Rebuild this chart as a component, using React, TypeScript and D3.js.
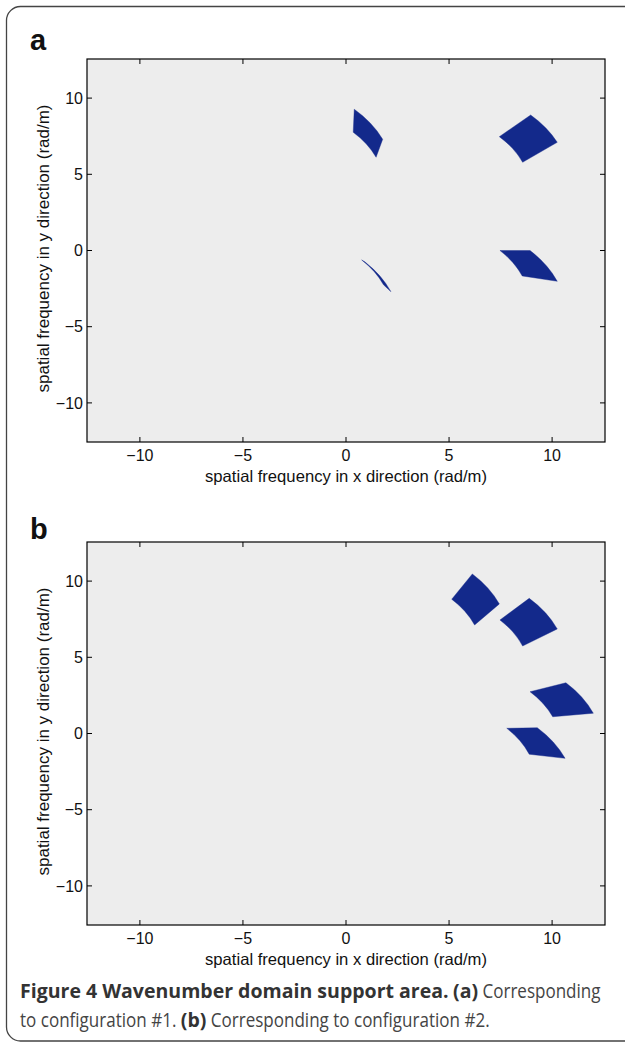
import React from 'react';
import * as d3 from 'd3';

const W = 625;
const H = 1043;
const LIM = 4 * Math.PI;
const K_MAX = 2 * Math.PI;
const K_MIN = (2 * Math.PI) / 1.2;

const tickValues = [-10, -5, 0, 5, 10];
const tickLabels = ['\u221210', '\u22125', '0', '5', '10'];
const xTitle = 'spatial frequency in x direction (rad/m)';
const yTitle = 'spatial frequency in y direction (rad/m)';

type Pt = [number, number];
// each support patch: outer-arc start, outer-arc end, inner-arc end, inner-arc start (rad/m)
const patchesA: Pt[][] = [
  [[0.40, 9.27], [1.78, 7.30], [1.46, 6.12], [0.35, 7.76]],
  [[8.96, 8.89], [10.25, 7.10], [8.57, 5.79], [7.44, 7.47]],
  [[0.91, -0.74], [2.18, -2.70], [1.82, -2.25], [0.76, -0.62]],
  [[8.93, 0.0], [10.25, -2.02], [8.55, -1.67], [7.47, 0.0]],
];
const patchesB: Pt[][] = [
  [[6.13, 10.47], [7.44, 8.50], [6.24, 7.12], [5.13, 8.81]],
  [[8.89, 8.87], [10.25, 6.86], [8.57, 5.74], [7.47, 7.45]],
  [[10.67, 3.33], [12.0, 1.33], [10.03, 1.10], [8.93, 2.74]],
  [[9.28, 0.38], [10.63, -1.63], [8.89, -1.36], [7.80, 0.34]],
];

// caption lines, as [text, bold] segments separated by a space
const captionLine1: [string, boolean][] = [
  ['Figure 4 Wavenumber domain support area.', true],
  ['(a)', true],
  ['Corresponding', false],
];
const captionLine2: [string, boolean][] = [
  ['to configuration #1.', false],
  ['(b)', true],
  ['Corresponding to configuration #2.', false],
];
const LINE1_W = 581;
const LINE2_W = 470;

const FONT = '"Liberation Sans", Arial, Helvetica, sans-serif';
const CAP = '"Open Sans", "Noto Sans", sans-serif';
const FILL = '#13298b';
const BG = '#ededed';

let ctx: CanvasRenderingContext2D | null = null;
function measure(t: string, bold: boolean, size: number) {
  if (!ctx) ctx = document.createElement('canvas').getContext('2d');
  if (!ctx) return t.length * size * 0.5;
  ctx.font = `${bold ? 'bold ' : ''}${size}px ${CAP}`;
  return ctx.measureText(t).width;
}

type PanelProps = { top: number; bottom: number; patches: Pt[][]; letter: string; letterY: number };

function Panel({ top, bottom, patches, letter, letterY }: PanelProps) {
  const left = 87;
  const right = 605;
  const x = d3.scaleLinear().domain([-LIM, LIM]).range([left, right]);
  const y = d3.scaleLinear().domain([-LIM, LIM]).range([bottom, top]);
  const sx = Math.abs(x(1) - x(0));
  const sy = Math.abs(y(1) - y(0));
  const O: Pt = [x(0), y(0)];

  const arc = (from: Pt, to: Pt, r: number) => {
    const cr = (to[0] - from[0]) * (O[1] - from[1]) - (to[1] - from[1]) * (O[0] - from[0]);
    const sweep = cr > 0 ? 1 : 0;
    return `A${r * sx},${r * sy} 0 0 ${sweep} ${to[0]},${to[1]}`;
  };

  const pathOf = (p: Pt[]) => {
    const [o1, o2, i2, i1] = p.map(([a, b]) => [x(a), y(b)] as Pt);
    return `M${o1[0]},${o1[1]} ${arc(o1, o2, K_MAX)} L${i2[0]},${i2[1]} ${arc(i2, i1, K_MIN)} Z`;
  };

  const tl = 5;
  return (
    <g>
      <text x={30} y={letterY} fontFamily={FONT} fontWeight="bold" fontSize={29} fill="#111">{letter}</text>
      <rect x={left} y={top} width={right - left} height={bottom - top} fill={BG} />
      {patches.map((p, i) => (
        <path key={i} d={pathOf(p)} fill={FILL} stroke={FILL} strokeWidth={0.4} />
      ))}
      {tickValues.map((v, i) => (
        <g key={'x' + i}>
          <line x1={x(v)} x2={x(v)} y1={bottom} y2={bottom - tl} stroke="#000" />
          <line x1={x(v)} x2={x(v)} y1={top} y2={top + tl} stroke="#000" />
          <text x={x(v)} y={bottom + 18.5} textAnchor="middle" fontFamily={FONT} fontSize={16} fill="#111">{tickLabels[i]}</text>
        </g>
      ))}
      {tickValues.map((v, i) => (
        <g key={'y' + i}>
          <line x1={left} x2={left + tl} y1={y(v)} y2={y(v)} stroke="#000" />
          <line x1={right} x2={right - tl} y1={y(v)} y2={y(v)} stroke="#000" />
          <text x={83} y={y(v)} dy="0.36em" textAnchor="end" fontFamily={FONT} fontSize={16} fill="#111">{tickLabels[i]}</text>
        </g>
      ))}
      <rect x={left} y={top} width={right - left} height={bottom - top} fill="none" stroke="#000" strokeWidth={1.2} />
      <text x={(left + right) / 2} y={bottom + 40} textAnchor="middle" fontFamily={FONT} fontSize={16.5} fill="#111" textLength={282} lengthAdjust="spacingAndGlyphs">{xTitle}</text>
      <text transform={`translate(48.5,${(top + bottom) / 2 - 2}) rotate(-90)`} textAnchor="middle" fontFamily={FONT} fontSize={16.5} fill="#111" textLength={288} lengthAdjust="spacingAndGlyphs">{yTitle}</text>
    </g>
  );
}

// bold and regular widths of a caption line at a given size (spaces counted as regular)
function widths(segs: [string, boolean][], size: number) {
  let B = 0;
  let R = 0;
  segs.forEach(([t, b], i) => {
    const w = measure(t, b, size);
    if (b) B += w; else R += w;
    if (i < segs.length - 1) R += measure(' ', false, size);
  });
  return { B, R };
}

// regular segments are narrowed horizontally by s so each line keeps the reference width
function layoutLine(segs: [string, boolean][], size: number, s: number, x0: number) {
  let cx = x0;
  return segs.map(([t, b], i) => {
    const x = cx;
    const nat = measure(t, b, size);
    const w = b ? nat : nat * s;
    const gap = i < segs.length - 1 ? measure(' ', false, size) * s : 0;
    cx += w + gap;
    return { t, b, x };
  });
}

export default function App() {
  const base = 20;
  const l1 = widths(captionLine1, base);
  const l2 = widths(captionLine2, base);
  let s = (LINE1_W * l2.B - LINE2_W * l1.B) / (LINE2_W * l1.R - LINE1_W * l2.R);
  if (!isFinite(s) || s < 0.75 || s > 1.1) s = 0.9;
  const size = (base * LINE1_W) / (l1.B + s * l1.R);
  const lines = [layoutLine(captionLine1, size, s, 20), layoutLine(captionLine2, size, s, 20)];
  const lineY = [998, 1027];
  return (
    <svg width={W} height={H} style={{ position: 'absolute', left: 0, top: 0, background: '#fff' }}>
      <rect x={6.5} y={6.5} width={650} height={1034.5} rx={14} ry={14} fill="#fff" stroke="#444" strokeWidth={1.3} />
      <Panel top={59} bottom={442} patches={patchesA} letter="a" letterY={50} />
      <Panel top={542} bottom={925} patches={patchesB} letter="b" letterY={539} />
      {lines.map((segs, li) =>
        segs.map((seg, i) => (
          <text
            key={li + '-' + i}
            transform={`translate(${seg.x},${lineY[li]}) scale(${seg.b ? 1 : s},1)`}
            fontFamily={CAP}
            fontSize={size}
            fontWeight={seg.b ? 'bold' : 'normal'}
            fill={seg.b ? '#333' : '#444'}
          >
            {seg.t}
          </text>
        ))
      )}
    </svg>
  );
}
